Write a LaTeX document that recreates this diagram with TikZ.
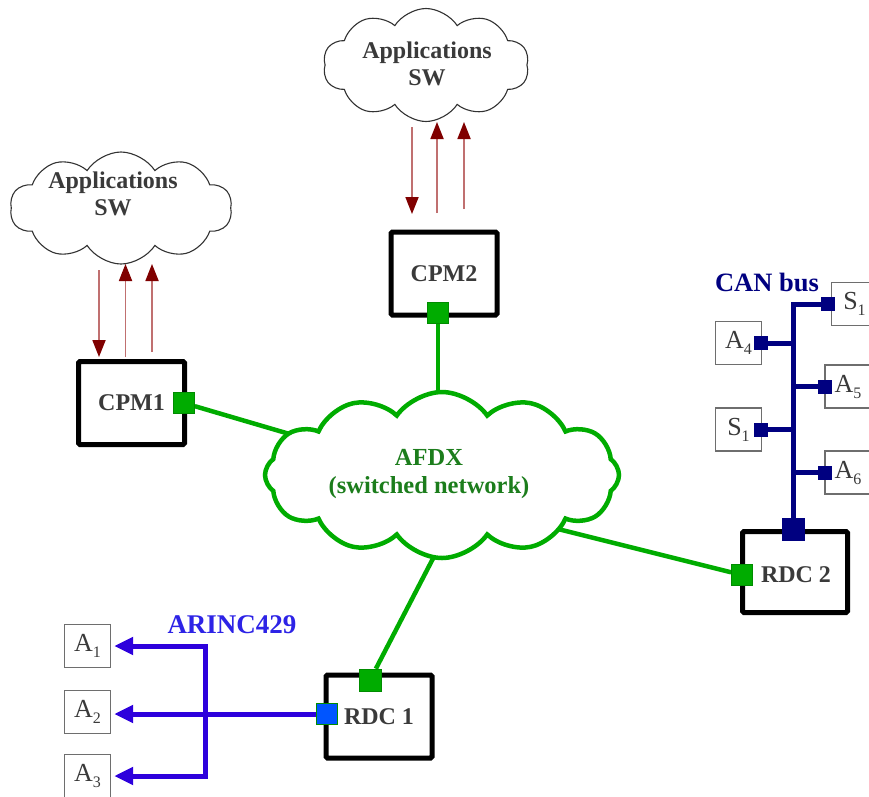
\documentclass[tikz,border=0pt]{standalone}
\usepackage{fontspec}
\setmainfont{Liberation Serif}
\usetikzlibrary{shapes.symbols,arrows.meta,calc}
\definecolor{txtgray}{RGB}{58,58,58}
\definecolor{cloudgray}{RGB}{50,50,50}
\definecolor{flowline}{RGB}{192,112,112}
\definecolor{flowhead}{RGB}{128,0,0}
\definecolor{afdxgreen}{RGB}{0,172,0}
\definecolor{afdxdark}{RGB}{0,140,0}
\definecolor{afdxtext}{RGB}{28,125,28}
\definecolor{cannavy}{RGB}{0,0,128}
\definecolor{arincblue}{RGB}{45,0,220}
\definecolor{arinctext}{RGB}{45,35,230}
\definecolor{portblue}{RGB}{0,85,255}
\definecolor{boxgray}{RGB}{110,110,110}
\newcommand\subl[2]{#1\raisebox{-6pt}{\fontsize{16}{16}\selectfont #2}}
\begin{document}
\begin{tikzpicture}[x=1pt,y=-1pt,
  unit/.style={draw=black, line width=5pt, rounded corners=1.5pt, fill=white,
    minimum width=106pt, minimum height=83pt, text=txtgray,
    font=\fontsize{24}{28}\selectfont\bfseries},
  apptext/.style={align=center, text=txtgray, font=\fontsize{24}{27}\selectfont\bfseries},
  swcloud/.style={cloud, cloud puffs=10, cloud puff arc=115, aspect=2, draw=cloudgray,
    line width=1.1pt, fill=white},
  flow/.style={draw=flowline, line width=1.8pt, -{Triangle[length=17pt,width=13pt,color=flowhead]}},
  gport/.style={draw=afdxdark, line width=0.6pt, fill=afdxgreen, minimum size=21pt, inner sep=0pt},
  cport/.style={fill=cannavy, minimum size=14pt, inner sep=0pt},
  afdxline/.style={draw=afdxgreen, line width=4.5pt},
  canline/.style={draw=cannavy, line width=5pt},
  arinc/.style={draw=arincblue, line width=5pt},
  arinctip/.style={-{Triangle[length=19pt,width=17pt]}},
  dev/.style={draw=boxgray, line width=1.4pt, fill=white, minimum width=46pt,
    minimum height=43pt, inner sep=0pt, text=txtgray, font=\fontsize{26}{26}\selectfont}
]
\useasboundingbox (0,0) rectangle (869,796);

% application clouds
\node[swcloud, minimum width=222pt, minimum height=112pt] (lcloud) at (121,208) {};
\node[apptext] (ltext) at (113,194) {Applications\\SW};
\node[swcloud, minimum width=206pt, minimum height=113pt] (tcloud) at (426,65) {};
\node[apptext] (ttext) at (427,64) {Applications\\SW};

% units
\node[unit] (cpm1) at (131.5,403) {CPM1};
\node[unit] (cpm2) at (444,273.5) {CPM2};
\node[unit] (rdc1) at (379,716.5) {RDC 1};
\node[unit, minimum width=105pt, minimum height=81pt] (rdc2) at (795,572) {\phantom{RDC 2}};

% flow arrows left
\coordinate (l1s) at (99,270);   \coordinate (l1e) at (99,357);
\coordinate (l2s) at (125.5,357); \coordinate (l2e) at (125.5,264);
\coordinate (l3s) at (152,352);  \coordinate (l3e) at (152,264);
\draw[flow] (l1s) -- (l1e);
\draw[flow] (l2s) -- (l2e);
\draw[flow] (l3s) -- (l3e);
% flow arrows top
\coordinate (t1s) at (412,127);  \coordinate (t1e) at (412,214);
\coordinate (t2s) at (437,213);  \coordinate (t2e) at (437,122);
\coordinate (t3s) at (464,209);  \coordinate (t3e) at (464,122);
\draw[flow] (t1s) -- (t1e);
\draw[flow] (t2s) -- (t2e);
\draw[flow] (t3s) -- (t3e);

% ports
\node[gport] (cpm1p) at (184,403) {};
\node[gport] (cpm2p) at (438,313) {};
\node[gport, minimum size=22pt] (rdc1p) at (370,680) {};
\node[gport] (rdc2p) at (742,575) {};
\node[draw=afdxdark, line width=0.6pt, fill=portblue, minimum size=21pt, inner sep=0pt] (rdc1b) at (327,714) {};

% AFDX connections
\coordinate (afdxL) at (310,440);
\coordinate (afdxT) at (438,410);
\coordinate (afdxR) at (550,527);
\coordinate (afdxB) at (440,545);
\draw[afdxline] (cpm1p) -- (afdxL);
\draw[afdxline] (cpm2p) -- (afdxT);
\draw[afdxline] (rdc2p) -- (afdxR);
\draw[afdxline] (rdc1p) -- (afdxB);
\node[gport] at (cpm1p) {};
\node[gport] at (cpm2p) {};
\node[gport] at (rdc2p) {};
\node[gport, minimum size=22pt] at (rdc1p) {};

% AFDX cloud
\node[cloud, cloud puffs=12, cloud puff arc=110, aspect=2.2, draw=afdxgreen, line width=4.5pt,
  fill=white, minimum width=354pt, minimum height=166pt] (afdx) at (442,475) {};
\node[align=center, text=afdxtext, font=\fontsize{24.5}{28}\selectfont\bfseries] (afdxtxt) at (429,474)
  {AFDX\\(switched network)};

% RDC 2 label over its box
\node[text=txtgray, font=\fontsize{24}{28}\selectfont\bfseries] (rdc2t) at (796,575) {RDC 2};

% CAN bus
\node[cport, minimum size=23pt] (canp) at (793,529) {};
\node[dev] (s1t) at (854.5,304) {\subl{S}{1}};
\node[dev] (a4) at (738.5,343) {\subl{A}{4}};
\node[dev] (a5) at (848,386.5) {\subl{A}{5}};
\node[dev] (s1l) at (738.5,429.5) {\subl{S}{1}};
\node[dev] (a6) at (848,472.5) {\subl{A}{6}};
\draw[canline] (canp.center) -- (canp.center |- s1t.west) -- (s1t.west);
\draw[canline] (a4.east) -- (a4.east -| canp);
\draw[canline] (a5.west) -- (a5.west -| canp);
\draw[canline] (s1l.east) -- (s1l.east -| canp);
\draw[canline] (a6.west) -- (a6.west -| canp);
\node[cport] (cs1t) at (828,304) {};
\node[cport] (ca4) at (760.5,343) {};
\node[cport] (ca5) at (825,386.5) {};
\node[cport] (cs1l) at (760.5,429.5) {};
\node[cport] (ca6) at (825,472.5) {};
\node[cport, minimum size=23pt] at (canp) {};
\node[text=cannavy, font=\fontsize{26.5}{26}\selectfont\bfseries, anchor=center] (canlbl) at (767,282) {CAN bus};

% ARINC 429
\node[dev] (a1) at (87.5,646) {\subl{A}{1}};
\node[dev] (a2) at (87.5,712) {\subl{A}{2}};
\node[dev] (a3) at (87.5,776) {\subl{A}{3}};
\coordinate (barx) at (205,700);
\draw[arinc, {Triangle[length=19pt,width=17pt]}-{Triangle[length=19pt,width=17pt]}, shorten <=3pt, shorten >=3pt]
  (a1.east) -- (a1.east -| barx) -- (a3.east -| barx) -- (a3.east);
\draw[arinc, arinctip, shorten >=3pt] (rdc1b.center) -- (rdc1b.center -| a2.east);
\node[draw=afdxdark, line width=0.6pt, fill=portblue, minimum size=21pt, inner sep=0pt] at (rdc1b) {};
\node[text=arinctext, font=\fontsize{27}{27}\selectfont\bfseries] (arinclbl) at (232,625) {ARINC429};
\end{tikzpicture}
\end{document}
